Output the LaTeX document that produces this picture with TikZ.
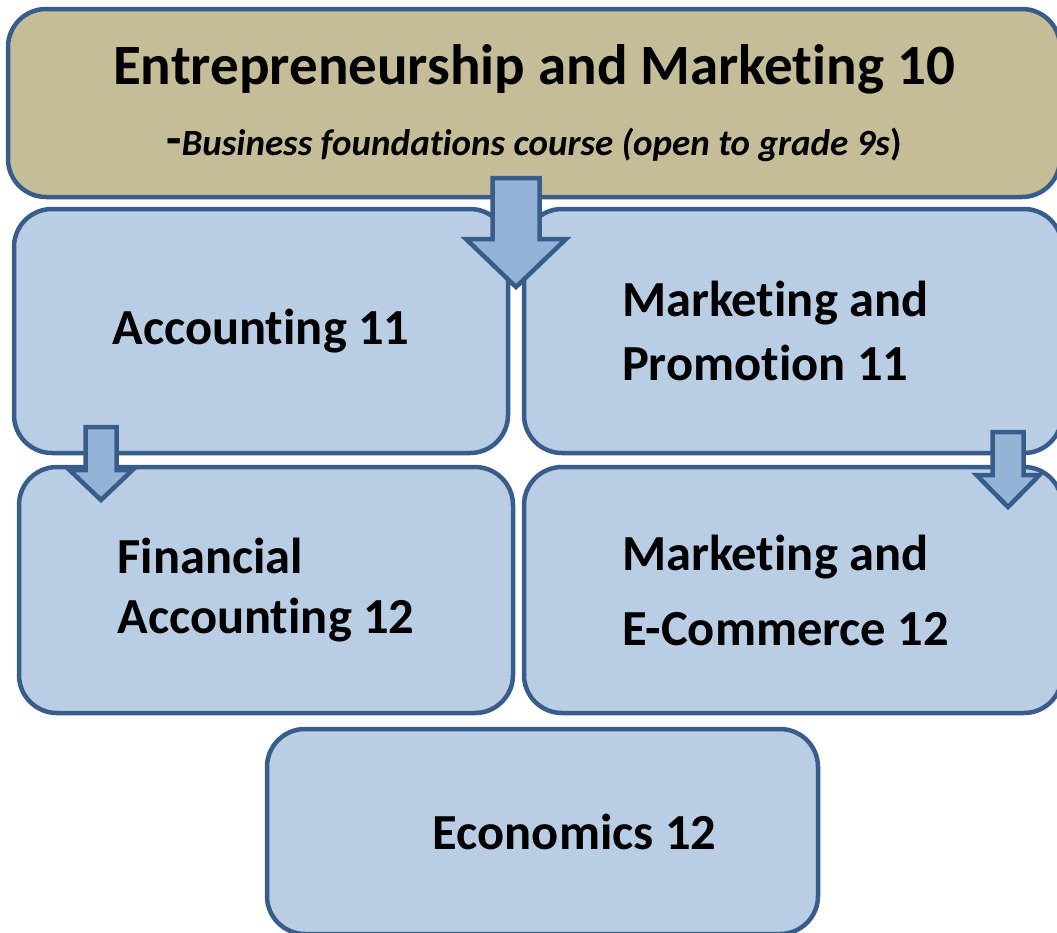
\documentclass[tikz,border=0pt]{standalone}
\usepackage{fontspec}
\setmainfont{Carlito}[Ligatures={NoCommon,NoContextual}, Contextuals=NoAlternate]
\usepackage{tikz}
\definecolor{edgeblue}{RGB}{56,93,138}
\definecolor{boxblue}{RGB}{185,205,229}
\definecolor{coursetan}{RGB}{196,189,151}
\definecolor{arrowblue}{RGB}{149,179,215}
\def\blockdown(#1,#2)(#3:#4:#5:#6){\draw[line width=4.5pt, draw=edgeblue, fill=arrowblue, line join=miter] ({#1-#3/2}, #2) -- ({#1+#3/2}, #2) -- ({#1+#3/2}, #5) -- ({#1+#4/2}, #5) -- (#1, #6) -- ({#1-#4/2}, #5) -- ({#1-#3/2}, #5) -- cycle;}

\begin{document}
\begin{tikzpicture}[x=1pt, y=-1pt,
		course/.style={draw=edgeblue, line width=4.5pt, fill=boxblue, rounded corners=38pt, inner sep=0pt, font=\bfseries\fontsize{50.5}{64}\selectfont}]
			%%%%% START %%%%%
			
			\useasboundingbox (0, 0) rectangle (1057, 932);
			
			\node[course, fill=coursetan, minimum width=1052pt, minimum height=188pt, align=center, font=\bfseries\fontsize{57}{71}\selectfont] (intro) at (534, 103) {Entrepreneurship and Marketing 10\\{\fontsize{50}{71}\selectfont -}{\fontsize{37}{71}\selectfont\itshape Business foundations course (open to grade 9s}{\fontsize{37}{71}\selectfont )}};
			
			\node[course, minimum width=494pt, minimum height=244pt] (acc) at (261, 331) {Accounting 11};
			\node[course, minimum width=538pt, minimum height=244pt, text width=342pt, align=flush left] (promo) at (793, 331) {Marketing and\\Promotion 11};
			
			\blockdown(516,178)(47:100:239:287)
			
			\node[course, minimum width=494pt, minimum height=246pt, align=flush left, font=\bfseries\fontsize{50.5}{60}\selectfont] (finacc) at (266, 590) {Financial\\Accounting 12};
			\node[course, minimum width=538pt, minimum height=246pt, text width=342pt, align=flush left, font=\bfseries\fontsize{50.5}{75}\selectfont] (ecom) at (793, 590) {Marketing and\\E-Commerce 12};
			
			\blockdown(101,427)(31:63:470:500)
			\blockdown(1008,432)(31:63:475:507)
			
			\node[course, minimum width=551pt, minimum height=205pt] (econ) at (542.5, 831.5) {\hspace*{64pt}Economics 12};
			
			%%%%% END %%%%%
\end{tikzpicture}
\end{document}
